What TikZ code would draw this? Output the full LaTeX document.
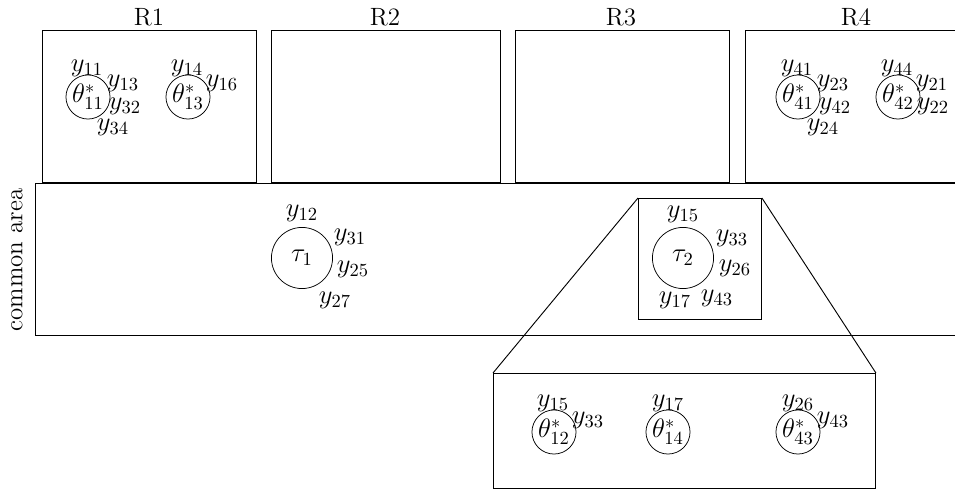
\documentclass[tikz,border=0pt]{standalone}
\begin{document}
\begin{tikzpicture}[x=0.54pt,y=-0.54pt,
  regionbox/.style={draw,line width=0.5pt},
  theta/.style={draw,circle,inner sep=0pt,minimum size=23.8pt,font=\fontsize{14}{16}\selectfont},
  tau/.style={draw,circle,inner sep=0pt,minimum size=33pt,font=\fontsize{14}{16}\selectfont},
  ylab/.style={inner sep=0pt,font=\fontsize{14}{16}\selectfont},
  rlab/.style={inner sep=0pt,font=\fontsize{13.5}{15}\selectfont},
  conn/.style={line width=0.5pt}]
\useasboundingbox (0,0) rectangle (955,489);
% region boxes
\node[regionbox,minimum width=214*0.54pt,minimum height=152*0.54pt,anchor=north west] (r1) at (42,30) {};
\node[regionbox,minimum width=229*0.54pt,minimum height=152*0.54pt,anchor=north west] (r2) at (271,30) {};
\node[regionbox,minimum width=214*0.54pt,minimum height=152*0.54pt,anchor=north west] (r3) at (515,30) {};
\node[regionbox,minimum width=222*0.54pt,minimum height=152*0.54pt,anchor=north west] (r4) at (745,30) {};
\node[rlab] (l1) at (149,17) {R1};
\node[rlab] (l2) at (385,17) {R2};
\node[rlab] (l3) at (621,17) {R3};
\node[rlab] (l4) at (856,17) {R4};
% common area
\node[regionbox,minimum width=940*0.54pt,minimum height=152*0.54pt,anchor=north west] (ca) at (35,183) {};
\node[rotate=90,inner sep=0pt,font=\fontsize{13.5}{16}\selectfont] (cal) at (17,260) {common area};
% R1 contents
\node[theta] (t11) at (88,97) {$\theta^*_{11}$};
\node[ylab] (a1) at (87,68) {$y_{11}$};
\node[ylab] (a2) at (123,83) {$y_{13}$};
\node[ylab] (a3) at (125,106) {$y_{32}$};
\node[ylab] (a4) at (113,127) {$y_{34}$};
\node[theta] (t13) at (188,97) {$\theta^*_{13}$};
\node[ylab] (a5) at (187,68) {$y_{14}$};
\node[ylab] (a6) at (222,83) {$y_{16}$};
% R4 contents
\node[theta] (t41) at (798,97) {$\theta^*_{41}$};
\node[ylab] (b1) at (797,68) {$y_{41}$};
\node[ylab] (b2) at (833,83) {$y_{23}$};
\node[ylab] (b3) at (835,106) {$y_{42}$};
\node[ylab] (b4) at (823,127) {$y_{24}$};
\node[theta] (t42) at (898,97) {$\theta^*_{42}$};
\node[ylab] (b5) at (897,68) {$y_{44}$};
\node[ylab] (b6) at (932,83) {$y_{21}$};
\node[ylab] (b7) at (933,106) {$y_{22}$};
% tau1
\node[tau] (tau1) at (302,258) {$\tau_1$};
\node[ylab] (c1) at (302,213) {$y_{12}$};
\node[ylab] (c2) at (350,237) {$y_{31}$};
\node[ylab] (c3) at (353,269) {$y_{25}$};
\node[ylab] (c4) at (335,300) {$y_{27}$};
% tau2 with small box
\node[regionbox,minimum width=123*0.54pt,minimum height=121*0.54pt,anchor=north west] (sb) at (638,198) {};
\node[tau] (tau2) at (683,258) {$\tau_2$};
\node[ylab] (d1) at (683,214) {$y_{15}$};
\node[ylab] (d2) at (732,238) {$y_{33}$};
\node[ylab] (d3) at (735,268) {$y_{26}$};
\node[ylab] (d4) at (675,300) {$y_{17}$};
\node[ylab] (d5) at (717,298) {$y_{43}$};
% zoom box
\node[regionbox,minimum width=382*0.54pt,minimum height=115*0.54pt,anchor=north west] (zb) at (493,373) {};
\draw[conn] (sb.north west) -- (zb.north west);
\draw[conn] (sb.north east) -- (zb.north east);
\node[theta] (t12) at (554,432) {$\theta^*_{12}$};
\node[ylab] (e1) at (553,403) {$y_{15}$};
\node[ylab] (e2) at (588,420) {$y_{33}$};
\node[theta] (t14) at (668,432) {$\theta^*_{14}$};
\node[ylab] (e3) at (668,403) {$y_{17}$};
\node[theta] (t43) at (798,432) {$\theta^*_{43}$};
\node[ylab] (e4) at (798,403) {$y_{26}$};
\node[ylab] (e5) at (833,420) {$y_{43}$};
\end{tikzpicture}
\end{document}
